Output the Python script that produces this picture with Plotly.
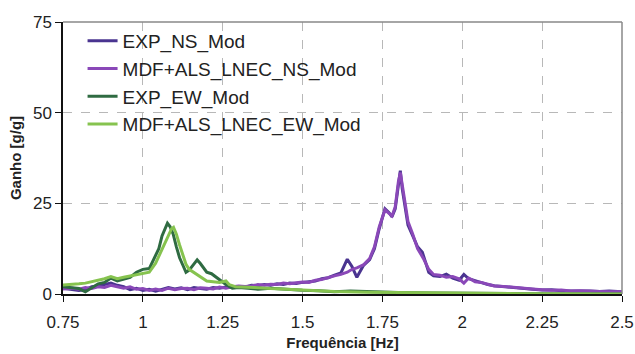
import plotly.graph_objects as go

# Frequency-response gain curves (Ganho vs Frequência)
freq_exp_ns = [0.75, 0.78, 0.80, 0.82, 0.84, 0.86, 0.88, 0.90, 0.92, 0.94, 0.96, 0.98, 1.00, 1.02, 1.04,
               1.06, 1.08, 1.10, 1.12, 1.14, 1.16, 1.18, 1.20, 1.22, 1.24, 1.26, 1.28, 1.30, 1.32, 1.34,
               1.36, 1.38, 1.40, 1.42, 1.44, 1.46, 1.48, 1.50, 1.52, 1.54, 1.56, 1.58, 1.60, 1.62, 1.64,
               1.655, 1.67, 1.69, 1.71, 1.725, 1.74, 1.758, 1.77, 1.78, 1.79, 1.80, 1.806, 1.812, 1.82,
               1.83, 1.845, 1.86, 1.875, 1.885, 1.895, 1.91, 1.93, 1.95, 1.97, 1.99, 2.005, 2.02, 2.04,
               2.06, 2.08, 2.10, 2.13, 2.16, 2.19, 2.22, 2.25, 2.28, 2.31, 2.34, 2.37, 2.40, 2.43, 2.46, 2.50]
gain_exp_ns = [1.6, 1.3, 1.0, 1.2, 2.0, 2.2, 2.6, 3.0, 2.4, 2.0, 1.2, 1.6, 1.0, 1.3, 0.8,
               1.3, 1.8, 1.4, 1.7, 1.2, 1.8, 1.5, 1.3, 1.8, 1.6, 1.9, 1.8, 2.0, 1.9, 2.4,
               2.3, 2.6, 2.4, 2.8, 2.6, 3.0, 2.9, 3.2, 3.4, 3.6, 4.2, 4.5, 5.2, 5.8, 9.6,
               7.5, 4.6, 7.8, 9.5, 12.5, 18.0, 23.5, 22.5, 21.3, 23.5, 30.0, 34.0, 29.0, 24.0,
               19.0, 16.0, 13.0, 11.5, 8.5, 6.0, 5.0, 4.8, 5.5, 4.4, 3.8, 5.4, 4.2, 3.6,
               3.0, 2.6, 2.3, 2.0, 1.7, 1.6, 1.3, 1.1, 1.2, 0.9, 0.9, 1.0, 0.8, 0.7, 0.8, 0.6]

freq_mdf_ns = [0.75, 0.78, 0.80, 0.82, 0.84, 0.86, 0.88, 0.90, 0.92, 0.94, 0.96, 0.98, 1.00, 1.02, 1.04,
               1.06, 1.08, 1.10, 1.12, 1.14, 1.16, 1.18, 1.20, 1.22, 1.24, 1.26, 1.28, 1.30, 1.32, 1.34,
               1.36, 1.38, 1.40, 1.42, 1.44, 1.46, 1.48, 1.50, 1.52, 1.54, 1.56, 1.58, 1.60, 1.62, 1.64,
               1.655, 1.67, 1.69, 1.71, 1.725, 1.74, 1.758, 1.77, 1.78, 1.79, 1.80, 1.806, 1.812, 1.82,
               1.83, 1.845, 1.86, 1.87, 1.88, 1.895, 1.91, 1.93, 1.95, 1.97, 1.99, 2.005, 2.02, 2.04,
               2.06, 2.08, 2.10, 2.13, 2.16, 2.19, 2.22, 2.25, 2.28, 2.31, 2.34, 2.37, 2.40, 2.43, 2.46, 2.50]
gain_mdf_ns = [1.4, 1.6, 1.3, 1.8, 1.5, 2.0, 1.8, 2.4, 2.0, 1.6, 2.0, 1.3, 1.5, 1.0, 1.4,
               1.0, 1.6, 1.2, 1.5, 1.6, 1.2, 1.7, 1.6, 1.4, 1.9, 1.6, 2.0, 2.2, 2.1, 2.2,
               2.6, 2.4, 2.7, 2.6, 3.0, 2.8, 3.1, 3.3, 3.2, 3.8, 4.0, 4.6, 5.0, 5.4, 6.0,
               6.8, 7.2, 8.0, 9.8, 13.0, 18.5, 23.2, 22.2, 21.5, 24.0, 31.0, 33.5, 30.0, 25.0,
               20.0, 16.5, 12.5, 11.0, 9.5, 6.8, 5.4, 5.2, 4.6, 4.8, 4.2, 3.0, 4.4, 3.4,
               3.2, 2.7, 2.2, 2.1, 1.8, 1.5, 1.4, 1.2, 1.0, 1.1, 0.8, 0.9, 0.9, 0.7, 0.6, 0.7]

freq_exp_ew = [0.75, 0.78, 0.80, 0.82, 0.84, 0.86, 0.88, 0.90, 0.92, 0.94, 0.96, 0.98, 1.00, 1.02, 1.04,
               1.05, 1.06, 1.07, 1.077, 1.085, 1.095, 1.105, 1.115, 1.125, 1.135, 1.145, 1.16, 1.17, 1.18,
               1.19, 1.20, 1.215, 1.23, 1.245, 1.26, 1.28, 1.30, 1.33, 1.36, 1.40, 1.45, 1.50, 1.55, 1.60,
               1.65, 1.70, 1.80, 1.90, 2.00, 2.20, 2.50]
gain_exp_ew = [2.0, 1.8, 1.5, 0.6, 1.8, 2.8, 3.2, 4.4, 3.6, 4.2, 4.6, 6.0, 6.8, 7.0, 11.0,
               12.5, 16.0, 18.0, 19.5, 18.6, 16.5, 13.0, 10.0, 8.0, 6.0, 6.6, 8.4, 9.4, 8.4,
               7.2, 6.0, 5.6, 4.6, 3.4, 2.6, 1.6, 1.8, 1.6, 1.3, 1.6, 1.2, 1.0, 0.9, 0.6,
               0.8, 0.6, 0.4, 0.3, 0.2, 0.1, 0.0]

freq_mdf_ew = [0.75, 0.78, 0.80, 0.82, 0.84, 0.86, 0.88, 0.90, 0.92, 0.94, 0.96, 0.98, 1.00, 1.02, 1.04,
               1.06, 1.075, 1.09, 1.096, 1.105, 1.115, 1.125, 1.135, 1.145, 1.155, 1.17, 1.185, 1.20,
               1.22, 1.24, 1.26, 1.27, 1.29, 1.32, 1.35, 1.40, 1.45, 1.50, 1.55, 1.60, 1.70, 1.80, 2.00,
               2.20, 2.50]
gain_mdf_ew = [2.5, 2.6, 2.8, 3.0, 3.4, 3.6, 4.2, 4.8, 4.2, 4.6, 5.0, 5.2, 5.6, 6.0, 8.5,
               12.5, 15.5, 18.0, 18.4, 16.5, 13.5, 10.5, 8.2, 6.8, 6.2, 5.2, 4.4, 3.6,
               3.4, 3.2, 3.6, 2.6, 2.0, 1.8, 1.8, 1.5, 1.3, 1.0, 0.8, 0.7, 0.5, 0.4, 0.2,
               0.1, 0.0]

x_ticks = [0.75, 1, 1.25, 1.5, 1.75, 2, 2.25, 2.5]
x_tick_text = ["0.75", "1", "1.25", "1.5", "1.75", "2", "2.25", "2.5"]
y_ticks = [0, 25, 50, 75]

series = [
    ("EXP_NS_Mod", freq_exp_ns, gain_exp_ns, "#4a3490"),
    ("MDF+ALS_LNEC_NS_Mod", freq_mdf_ns, gain_mdf_ns, "#8a48b8"),
    ("EXP_EW_Mod", freq_exp_ew, gain_exp_ew, "#2f6b42"),
    ("MDF+ALS_LNEC_EW_Mod", freq_mdf_ew, gain_mdf_ew, "#86c34f"),
]

fig = go.Figure()
for i, (name, fx, gy, color) in enumerate(series):
    fig.add_trace(go.Scatter(
        x=fx, y=gy, name=name, mode="lines",
        line=dict(color=color, width=3),
        legendgroup=f"g{i}",
    ))

font_family = "Arial"

fig.update_layout(
    width=635, height=354,
    margin=dict(l=63, r=13, t=22, b=60),
    paper_bgcolor="white", plot_bgcolor="white",
    font=dict(family=font_family, color="#222", size=17),
    showlegend=True,
    legend=dict(
        x=0.035, y=1.0, xanchor="left", yanchor="top",
        bgcolor="rgba(255,255,255,0)", borderwidth=0,
        font=dict(size=19, color="#222", family=font_family),
        tracegroupgap=0, itemwidth=30,
    ),
    xaxis=dict(
        range=[0.75, 2.5], tickvals=x_ticks, ticktext=x_tick_text,
        showgrid=True, gridcolor="#b8b8b8", griddash="dash", gridwidth=1,
        showline=True, linecolor="#111", linewidth=1.5, mirror=False,
        ticks="outside", ticklen=6, tickcolor="#111", ticklabelstandoff=6,
        zeroline=False, tickfont=dict(size=17, color="#222"), automargin=False,
        title=dict(text="<b>Frequência [Hz]</b>", font=dict(size=15, color="#222"), standoff=6),
    ),
    yaxis=dict(
        range=[0, 75], tickvals=y_ticks,
        showgrid=True, gridcolor="#b8b8b8", griddash="dash", gridwidth=1,
        showline=True, linecolor="#111", linewidth=1.5,
        ticks="outside", ticklen=6, tickcolor="#111",
        zeroline=False, tickfont=dict(size=17, color="#222"), automargin=False,
        title=dict(text="<b>Ganho [g/g]</b>", font=dict(size=15, color="#222"), standoff=8),
    ),
)

# Light frame on top and right sides of the plot area
fig.add_shape(type="line", xref="paper", yref="paper", x0=0, x1=1, y0=1, y1=1,
              line=dict(color="#888", width=1.5))
fig.add_shape(type="line", xref="paper", yref="paper", x0=1, x1=1, y0=0, y1=1,
              line=dict(color="#888", width=1.5))

fig.write_html("out.html")
